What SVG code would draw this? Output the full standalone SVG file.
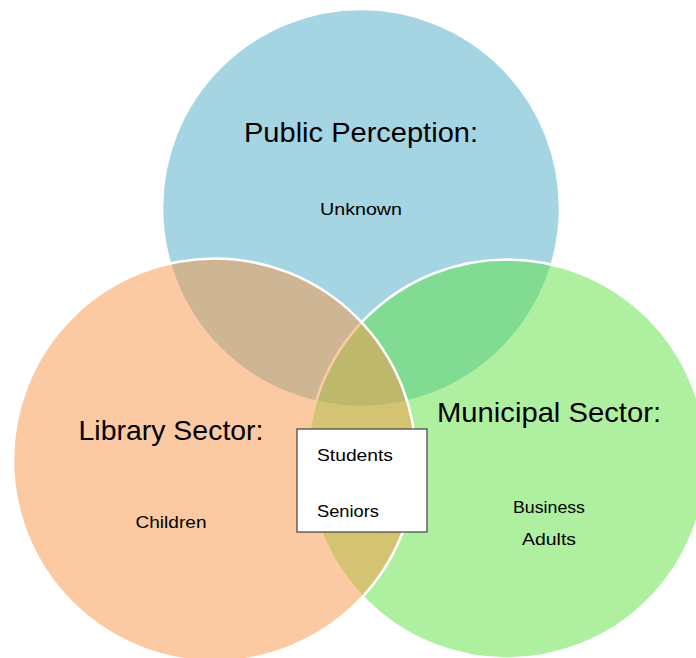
<svg xmlns="http://www.w3.org/2000/svg" width="696" height="658" viewBox="0 0 696 658">
<style>
.c{fill-opacity:0.5;stroke:#ffffff;stroke-width:2.5}
text{font-family:"Liberation Sans",Arial,sans-serif;fill:#000000;text-anchor:middle}
.t{font-size:28px}
.s{font-size:17px}
</style>
<rect width="696" height="658" fill="#ffffff"/>
<g id="public-perception">
<circle class="c" cx="361" cy="208" r="199" fill="#4BACC6"/>
<text class="t" x="361" y="142" textLength="234" lengthAdjust="spacingAndGlyphs">Public Perception:</text>
<text class="s" x="361" y="215" textLength="82" lengthAdjust="spacingAndGlyphs">Unknown</text>
</g>
<g id="municipal-sector">
<circle class="c" cx="507" cy="459" r="199.5" fill="#5FE141"/>
<text class="t" x="549" y="422" textLength="224" lengthAdjust="spacingAndGlyphs">Municipal Sector:</text>
<text class="s" x="549" y="513" textLength="72" lengthAdjust="spacingAndGlyphs">Business</text>
<text class="s" x="549" y="545" textLength="54" lengthAdjust="spacingAndGlyphs">Adults</text>
</g>
<g id="library-sector">
<circle class="c" cx="214.5" cy="460" r="201.5" fill="#F79646"/>
<text class="t" x="171" y="440" textLength="185" lengthAdjust="spacingAndGlyphs">Library Sector:</text>
<text class="s" x="171" y="528" textLength="71" lengthAdjust="spacingAndGlyphs">Children</text>
</g>
<g id="shared-box">
<rect x="297" y="429" width="130" height="103" fill="#ffffff" stroke="#404040" stroke-width="1.2"/>
<text class="s" x="317" y="461" style="text-anchor:start" textLength="76" lengthAdjust="spacingAndGlyphs">Students</text>
<text class="s" x="317" y="517" style="text-anchor:start" textLength="62" lengthAdjust="spacingAndGlyphs">Seniors</text>
</g>
<g id="connectors"/>
</svg>
